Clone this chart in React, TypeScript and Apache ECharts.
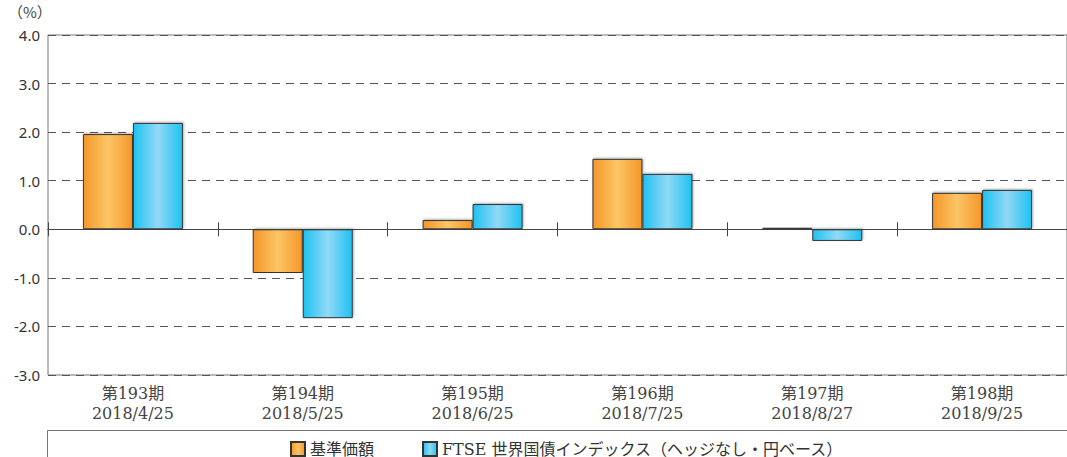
import React, { useEffect, useRef } from "react";
import * as echarts from "echarts";

const periods = ["第193期", "第194期", "第195期", "第196期", "第197期", "第198期"];
const dates = ["2018/4/25", "2018/5/25", "2018/6/25", "2018/7/25", "2018/8/27", "2018/9/25"];
const fundValues = [1.96, -0.9, 0.19, 1.45, 0.03, 0.75];
const indexValues = [2.19, -1.83, 0.52, 1.14, -0.24, 0.81];
const seriesNames = ["基準価額", "FTSE 世界国債インデックス（ヘッジなし・円ベース）"];

const categories = periods.map((p, i) => p + "\n" + dates[i]);

const orangeGrad = new echarts.graphic.LinearGradient(0, 0, 1, 0, [
  { offset: 0, color: "#F5972A" },
  { offset: 0.5, color: "#FCC566" },
  { offset: 1, color: "#F5972A" },
]);
const blueGrad = new echarts.graphic.LinearGradient(0, 0, 1, 0, [
  { offset: 0, color: "#1DC2F1" },
  { offset: 0.5, color: "#92D9F6" },
  { offset: 1, color: "#1DC2F1" },
]);

export default function App() {
  const ref = useRef<HTMLDivElement>(null);
  useEffect(() => {
    if (!ref.current) return;
    const chart = echarts.init(ref.current, null, { renderer: "svg" });
    chart.setOption({
      animation: false,
      backgroundColor: "#ffffff",
      grid: {
        left: 48,
        top: 35,
        width: 1020,
        height: 340,
        show: true,
        borderColor: "#777",
        borderWidth: 1,
        backgroundColor: "transparent",
      },
      graphic: [
        {
          type: "text",
          left: 8,
          top: 4,
          style: { text: "（%）", fontSize: 15, fill: "#444", fontFamily: "Noto Sans CJK JP" },
        },
        {
          type: "rect",
          shape: { x: 47.5, y: 430.5, width: 1030, height: 40 },
          style: { fill: "none", stroke: "#777", lineWidth: 1 },
          z: 0,
        },
      ],
      legend: {
        data: seriesNames,
        top: 436,
        left: 285,
        itemWidth: 14,
        itemHeight: 14,
        itemGap: 48,
        icon: "rect",
        textStyle: { fontSize: 16, color: "#333", fontFamily: "DejaVu Serif, Noto Sans CJK JP" },
      },
      xAxis: [
        {
          type: "category",
          data: categories,
          position: "bottom",
          axisLine: { show: true, onZero: true, onZeroAxisIndex: 0, lineStyle: { color: "#444", width: 1 } },
          axisTick: { show: true, length: 7, lineStyle: { color: "#444" } },
          axisLabel: { show: false },
          splitLine: { show: false },
        },
        {
          type: "category",
          data: categories,
          position: "top",
          axisLine: { show: true, onZero: true, onZeroAxisIndex: 0, lineStyle: { color: "#444", width: 1 } },
          axisTick: { show: true, length: 7, lineStyle: { color: "#444" } },
          axisLabel: { show: false },
          splitLine: { show: false },
        },
        {
          type: "category",
          data: categories,
          position: "bottom",
          axisLine: { show: false, onZero: false },
          axisTick: { show: false },
          axisLabel: {
            show: true,
            margin: 8,
            fontSize: 16,
            lineHeight: 20,
            color: "#444",
            fontFamily: "DejaVu Serif, Noto Sans CJK JP",
          },
          splitLine: { show: false },
        },
      ],
      yAxis: {
        type: "value",
        min: -3,
        max: 4,
        interval: 1,
        axisLine: { show: false },
        axisTick: { show: false },
        axisLabel: {
          fontSize: 15,
          color: "#333",
          margin: 8,
          fontFamily: "Noto Sans, sans-serif",
          formatter: (v: number) => v.toFixed(1),
        },
        splitLine: { show: true, lineStyle: { color: "#555", type: [8, 6], width: 1 } },
      },
      series: [
        {
          name: seriesNames[0],
          type: "bar",
          xAxisIndex: 0,
          data: fundValues,
          barWidth: 50,
          barGap: "0%",
          itemStyle: {
            color: orangeGrad,
            borderColor: "#333",
            borderWidth: 1,
            shadowColor: "rgba(0,0,0,0.3)",
            shadowOffsetX: 1,
            shadowOffsetY: -1,
            shadowBlur: 2,
          },
        },
        {
          name: seriesNames[1],
          type: "bar",
          xAxisIndex: 0,
          data: indexValues,
          barWidth: 50,
          barGap: "0%",
          itemStyle: {
            color: blueGrad,
            borderColor: "#333",
            borderWidth: 1,
            shadowColor: "rgba(0,0,0,0.3)",
            shadowOffsetX: 1,
            shadowOffsetY: -1,
            shadowBlur: 2,
          },
        },
      ],
    });
    return () => chart.dispose();
  }, []);
  return (
    <div
      ref={ref}
      style={{ position: "fixed", left: 0, top: 0, width: 1067, height: 457, background: "#fff" }}
    />
  );
}
